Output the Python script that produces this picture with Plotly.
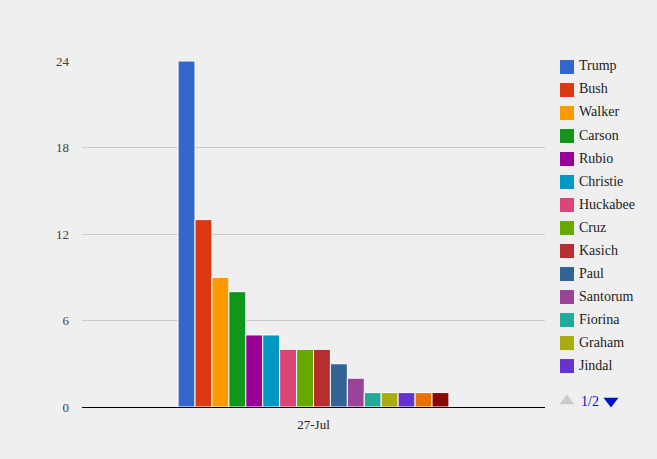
import plotly.graph_objects as go

# poll results for 27-Jul
date_label = "27-Jul"
candidates = ["Trump", "Bush", "Walker", "Carson", "Rubio", "Christie", "Huckabee",
              "Cruz", "Kasich", "Paul", "Santorum", "Fiorina", "Graham", "Jindal",
              "Perry", "Pataki"]
support = [24, 13, 9, 8, 5, 5, 4, 4, 4, 3, 2, 1, 1, 1, 1, 1]
colors = ["#3366cc", "#dc3912", "#ff9900", "#109618", "#990099", "#0099c6", "#dd4477",
          "#66aa00", "#b82e2e", "#316395", "#994499", "#22aa99", "#aaaa11", "#6633cc",
          "#e67300", "#8b0707"]
y_ticks = [0, 6, 12, 18, 24]
legend_page_size = 14  # legend shows page 1 of 2

font_name = "Liberation Serif"
bg = "#efefef"

fig = go.Figure()
for name, val, col in zip(candidates, support, colors):
    fig.add_trace(go.Bar(
        x=[date_label], y=[val], name=name,
        marker=dict(color=col, line=dict(color="#ffffff", width=1)),
        showlegend=False,
    ))

# google-charts style legend, first page only
page = list(range(legend_page_size))
fig.add_trace(go.Scatter(
    x=[7] * legend_page_size, y=page,
    mode="markers",
    marker=dict(symbol="square", size=14, color=colors[:legend_page_size]),
    xaxis="x2", yaxis="y2", showlegend=False, hoverinfo="skip", cliponaxis=False,
))
fig.add_trace(go.Scatter(
    x=[19] * legend_page_size, y=page,
    mode="text",
    text=candidates[:legend_page_size],
    textposition="middle right",
    textfont=dict(family=font_name, size=14, color="#222222"),
    xaxis="x2", yaxis="y2", showlegend=False, hoverinfo="skip", cliponaxis=False,
))

# pager arrows
pager_y = 14.52
fig.add_trace(go.Scatter(
    x=[7, 51], y=[pager_y, pager_y], mode="markers",
    marker=dict(symbol=["triangle-up", "triangle-down"], size=13,
                color=["#cccccc", "#0011cc"]),
    xaxis="x2", yaxis="y2", showlegend=False, hoverinfo="skip", cliponaxis=False,
))

fig.update_layout(
    width=657, height=459,
    paper_bgcolor=bg, plot_bgcolor=bg,
    font=dict(family=font_name, size=13, color="#222222"),
    margin=dict(l=82, r=0, t=61, b=52),
    barmode="group",
    bargap=0.415,
    bargroupgap=0,
    showlegend=False,
    xaxis=dict(domain=[0, 463 / 575], showgrid=False, showline=True,
               linecolor="#000000", linewidth=1, ticks="",
               tickfont=dict(color="#222222", size=13), ticklabelstandoff=5,
               fixedrange=True),
    yaxis=dict(range=[0, 24], tickvals=y_ticks, showgrid=True, gridcolor="#cccccc",
               zeroline=False, ticks="", tickfont=dict(color="#444444", size=13),
               ticklabelstandoff=12, fixedrange=True),
    xaxis2=dict(domain=[478 / 575, 1], range=[0, 97], visible=False, fixedrange=True),
    yaxis2=dict(domain=[0, 1], range=[14.78, -0.26], visible=False, fixedrange=True,
                anchor="x2"),
    annotations=[
        dict(xref="x2", yref="y2", x=19, y=pager_y, text="1/2", showarrow=False,
             xanchor="left", font=dict(color="#0011cc", size=14, family=font_name)),
    ],
)

fig.write_html("out.html", config={"displayModeBar": False},
               post_script="document.body.style.margin='0';")
